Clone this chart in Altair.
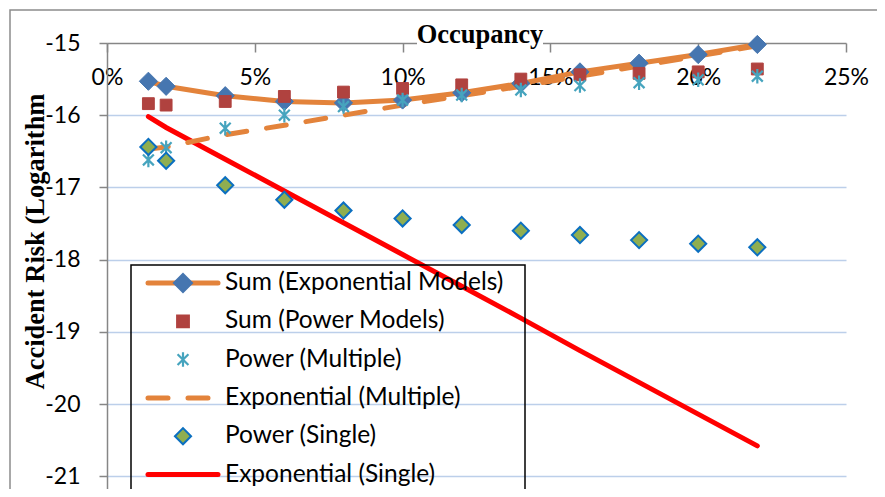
import altair as alt
import pandas as pd

# ---------------- data ----------------
occupancy = [0.014, 0.02, 0.04, 0.06, 0.08, 0.10, 0.12, 0.14, 0.16, 0.18, 0.20, 0.22]
sum_exponential = [-15.53, -15.60, -15.73, -15.81, -15.83, -15.79, -15.69, -15.56, -15.40, -15.28, -15.16, -15.02]
sum_power = [-15.84, -15.86, -15.81, -15.74, -15.68, -15.63, -15.58, -15.50, -15.44, -15.42, -15.40, -15.36]
power_multiple = [-16.62, -16.45, -16.18, -16.00, -15.88, -15.79, -15.72, -15.65, -15.59, -15.55, -15.51, -15.46]
exponential_multiple = [-16.47, -16.44, -16.27, -16.14, -16.00, -15.86, -15.73, -15.60, -15.46, -15.32, -15.18, -15.04]
power_single = [-16.44, -16.63, -16.97, -17.17, -17.32, -17.43, -17.52, -17.60, -17.66, -17.73, -17.78, -17.83]
exponential_single = [-16.02, -16.17, -16.61, -17.05, -17.49, -17.93, -18.37, -18.81, -19.26, -19.70, -20.14, -20.58]

series_names = [
    "Sum (Exponential Models)",
    "Sum (Power Models)",
    "Power (Multiple)",
    "Exponential (Multiple)",
    "Power (Single)",
    "Exponential (Single)",
]
series_values = [sum_exponential, sum_power, power_multiple,
                 exponential_multiple, power_single, exponential_single]

x_ticks = [0, 0.05, 0.10, 0.15, 0.20, 0.25]
y_ticks = [-15, -16, -17, -18, -19, -20, -21]

rows = []
for name, vals in zip(series_names, series_values):
    for o, v in zip(occupancy, vals):
        rows.append({"series": name, "occ": o, "val": v})
df = pd.DataFrame(rows)

# ---------------- layout / style ----------------
W, H = 739, 446          # plot area (bottom is cut off by the window, as in the original)
PX_PER_UNIT = 72.2
Y_MIN = -15 - H / PX_PER_UNIT
ORANGE = "#E3833B"
BLUE = "#4676B0"
DARKRED = "#B0423F"
TEAL = "#46A4BE"
GREEN = "#8FAE50"
GREEN_EDGE = "#0B6FC0"
RED = "#FF0000"
GRAY = "#868686"
GRID = "#BCCFEA"
LABEL_FONT = "Lato"
SERIF = "Liberation Serif"
ASTERISK = "M-0.75,-0.75L0.75,0.75M-0.75,0.75L0.75,-0.75M0,-1L0,1"

x_enc = alt.X(
    "occ:Q",
    scale=alt.Scale(domain=[0, 0.25], nice=False, zero=False),
    axis=alt.Axis(
        orient="bottom", offset=-H, values=x_ticks, format=".0%",
        tickSize=9, tickColor=GRAY, tickWidth=1.5,
        domainColor=GRAY, domainWidth=1.5,
        labelFont=LABEL_FONT, labelFontSize=23, labelColor="black",
        labelPadding=14, labelOverlap=False, labelBound=False, labelFlush=False,
        grid=False, title=None, zindex=0,
    ),
)
y_enc = alt.Y(
    "val:Q",
    scale=alt.Scale(domain=[Y_MIN, -15], nice=False, zero=False),
    axis=alt.Axis(
        orient="left", values=y_ticks, labelExpr="'' + datum.value",
        tickSize=8, tickColor=GRAY, tickWidth=1.5,
        domainColor=GRAY, domainWidth=1.5,
        labelFont=LABEL_FONT, labelFontSize=23, labelColor="black",
        labelPadding=19, labelOverlap=False, labelBound=False, labelFlush=False,
        grid=True, gridColor=GRID, gridWidth=1.5,
        gridOpacity={"condition": {"test": "datum.value == -15", "value": 0}, "value": 1},
        title="Accident Risk (Logarithm",
        titleFont=SERIF, titleFontSize=26.5, titleFontWeight="bold", titleColor="black",
        titleAngle=270, titleAlign="center", titleBaseline="middle",
        titleX=-72, titleY=198,
    ),
)

base = alt.Chart(df).encode(x=x_enc, y=y_enc)


def sel(name):
    return base.transform_filter(alt.datum.series == name)


one = pd.DataFrame({"k": [0]})

layers = []
# outer chart border
layers.append(alt.Chart(one).mark_rect(fillOpacity=0, stroke="#8C8C8C", strokeWidth=1.5).encode(
    x=alt.value(-97), x2=alt.value(W + 200), y=alt.value(-33), y2=alt.value(H + 200)))

# lines
layers.append(sel(series_names[0]).mark_line(color=ORANGE, strokeWidth=5, strokeCap="round", strokeJoin="round"))
layers.append(sel(series_names[5]).mark_line(color=RED, strokeWidth=5, strokeCap="round"))
layers.append(sel(series_names[3]).mark_line(color=ORANGE, strokeWidth=5, strokeDash=[20, 20], strokeCap="round"))
# markers
layers.append(sel(series_names[0]).mark_point(shape="diamond", filled=True, fill=BLUE, stroke=BLUE,
                                              strokeWidth=1, size=330, opacity=1))
layers.append(sel(series_names[1]).mark_point(shape="square", filled=True, fill=DARKRED, stroke=DARKRED,
                                              strokeWidth=1, size=140, opacity=1))
layers.append(sel(series_names[2]).mark_point(shape=ASTERISK, filled=False, stroke=TEAL,
                                              strokeWidth=2.2, size=210, opacity=1))
layers.append(sel(series_names[4]).mark_point(shape="diamond", filled=True, fill=GREEN, stroke=GREEN_EDGE,
                                              strokeWidth=2, size=260, opacity=1))

# x-axis title over the top axis line (white backing like the original)
layers.append(alt.Chart(one).mark_rect(fill="white").encode(
    x=alt.value(310), x2=alt.value(436), y=alt.value(-22), y2=alt.value(3)))
layers.append(alt.Chart(one).mark_text(text="Occupancy", font=SERIF, fontSize=26.5, fontWeight="bold",
                                       color="black", align="center", baseline="alphabetic").encode(
    x=alt.value(373), y=alt.value(0)))

# legend
leg_top = 240
leg_step = 38.3
sym_x = 76
line_x0, line_x1 = 41, 111
text_x = 118
layers.append(alt.Chart(one).mark_rect(fillOpacity=0, stroke="black", strokeWidth=1.5).encode(
    x=alt.value(24), x2=alt.value(418), y=alt.value(222), y2=alt.value(H + 100)))


def leg_y(i):
    return leg_top + leg_step * i


# row 0: line with diamond
layers.append(alt.Chart(one).mark_rule(color=ORANGE, strokeWidth=5, strokeCap="round").encode(
    x=alt.value(line_x0), x2=alt.value(line_x1), y=alt.value(leg_y(0))))
layers.append(alt.Chart(one).mark_point(shape="diamond", filled=True, fill=BLUE, stroke=BLUE,
                                        size=330, opacity=1).encode(x=alt.value(sym_x), y=alt.value(leg_y(0))))
# row 1: square
layers.append(alt.Chart(one).mark_point(shape="square", filled=True, fill=DARKRED, stroke=DARKRED,
                                        size=140, opacity=1).encode(x=alt.value(sym_x), y=alt.value(leg_y(1))))
# row 2: asterisk
layers.append(alt.Chart(one).mark_point(shape=ASTERISK, filled=False, stroke=TEAL, strokeWidth=2.2,
                                        size=210, opacity=1).encode(x=alt.value(sym_x), y=alt.value(leg_y(2))))
# row 3: dashed line
layers.append(alt.Chart(one).mark_rule(color=ORANGE, strokeWidth=5, strokeDash=[20, 20], strokeCap="round").encode(
    x=alt.value(line_x0), x2=alt.value(line_x1), y=alt.value(leg_y(3))))
# row 4: green diamond
layers.append(alt.Chart(one).mark_point(shape="diamond", filled=True, fill=GREEN, stroke=GREEN_EDGE,
                                        strokeWidth=2, size=260, opacity=1).encode(x=alt.value(sym_x), y=alt.value(leg_y(4))))
# row 5: red line
layers.append(alt.Chart(one).mark_rule(color=RED, strokeWidth=5, strokeCap="round").encode(
    x=alt.value(line_x0), x2=alt.value(line_x1), y=alt.value(leg_y(5))))
for i, name in enumerate(series_names):
    layers.append(alt.Chart(one).mark_text(text=name, font=LABEL_FONT, fontSize=24.5, color="black",
                                           align="left", baseline="middle").encode(
        x=alt.value(text_x), y=alt.value(leg_y(i))))

chart = alt.layer(*layers).properties(
    width=W, height=H,
    autosize=alt.AutoSizeParams(type="none"),
    padding={"left": 99, "top": 35, "right": 31, "bottom": 0},
    background="white",
).configure_view(stroke=None)

chart.save("out.html", embed_options={"renderer": "svg", "actions": False})
